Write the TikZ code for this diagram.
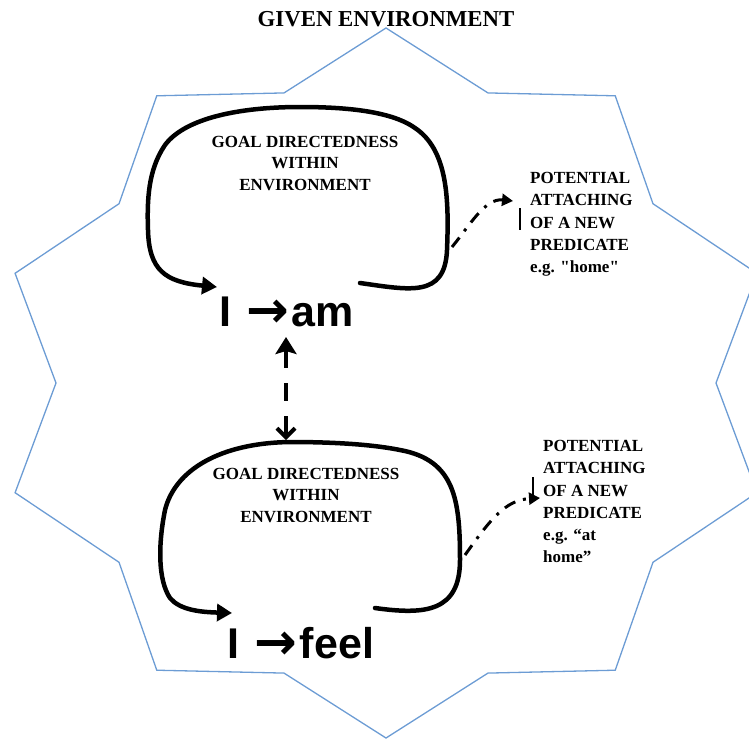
\documentclass[tikz,border=0pt]{standalone}
\usepackage{fontspec}
\setmainfont{Liberation Serif}
\newfontfamily\headfont{Liberation Sans}
\newfontfamily\arrowfont{DejaVu Sans}
\usetikzlibrary{arrows.meta}

\definecolor{starblue}{RGB}{108,156,212}

\tikzset{
  envline/.style={draw=starblue, line width=1.3pt, line join=miter},
  loopline/.style={line width=4.5pt, line cap=round, -{Triangle[length=15pt,width=17pt]}},
  linkline/.style={line width=4pt, dash pattern=on 18pt off 15pt,
    {Stealth[length=17pt,width=21pt,inset=3pt]}-{Straight Barb[length=9pt,width=18pt]}},
  attachline/.style={line width=3pt, dash pattern=on 12pt off 8pt on 3pt off 8pt,
    -{Triangle[length=11pt,width=12pt]}},
  cursorbar/.style={line width=1.6pt},
  titletext/.style={font=\fontsize{22.8}{26}\selectfont\bfseries, inner sep=0pt},
  goaltext/.style={font=\fontsize{17}{21.5}\selectfont\bfseries, align=center, inner sep=0pt},
  predtext/.style={font=\fontsize{17}{22.3}\selectfont\bfseries, align=left,
    anchor=north west, inner sep=0pt},
  bigtext/.style={font=\headfont\fontsize{43}{43}\selectfont\bfseries, anchor=west, inner sep=0pt}
}
\newcommand{\bigarrow}{\hspace{15pt}\raisebox{-1pt}{\arrowfont\bfseries\fontsize{51}{51}\selectfont →}\hspace{3pt}}

\begin{document}
\begin{tikzpicture}[x=1pt,y=-1pt]
    \useasboundingbox (0,0) rectangle (749,740);

    % Draw the ten-pointed star around everything
    \draw[envline, shift={(386,383)}] (90:390 and 355)
      \foreach \a in {0,36,...,324} { -- ({\a+108}:330 and 305) -- ({\a+126}:390 and 355) }
      -- cycle;

    % Texts
    \node[titletext] (given) at (386,19) {GIVEN ENVIRONMENT};
    \node[goaltext] (goalam) at (305,163) {GOAL DIRECTEDNESS\\WITHIN\\ENVIRONMENT};
    \node[goaltext] (goalfeel) at (306,495) {GOAL DIRECTEDNESS\\WITHIN\\ENVIRONMENT};
    \node[bigtext] (iam) at (219,312) {I\bigarrow am};
    \node[bigtext] (ifeel) at (227,643) {I\bigarrow feel};
    \node[predtext] (predam) at (530,172) {POTENTIAL\\ATTACHING\\OF A NEW\\PREDICATE\\e.g. \textquotedbl home\textquotedbl};
    \node[predtext] (predfeel) at (543,440) {POTENTIAL\\ATTACHING\\OF A NEW\\PREDICATE\\e.g. “at\\home”};

    % Loop ends and link points
    \coordinate (amback) at (360,283);
    \coordinate (amin) at (217,287);
    \coordinate (feelback) at (375,608);
    \coordinate (feelin) at (232,613);
    \coordinate (amlow) at (286,337);
    \coordinate (feeltop) at (286,440);
    \coordinate (amout) at (452,247);
    \coordinate (amnew) at (513,201);
    \coordinate (feelout) at (465,555);
    \coordinate (feelnew) at (540,498);

    % Draw upper loop
    \draw[loopline] (amback) .. controls (410,290) and (445,298) .. (447,250)
      .. controls (449,200) and (448,150) .. (415,128)
      .. controls (390,110) and (340,107) .. (300,107)
      .. controls (240,107) and (185,118) .. (165,145)
      .. controls (148,170) and (147,200) .. (148,230)
      .. controls (149,270) and (165,282) .. (amin);

    % Draw lower loop
    \draw[loopline] (feelback) .. controls (425,615) and (460,612) .. (460,560)
      .. controls (460,500) and (455,460) .. (400,450)
      .. controls (370,444) and (330,442) .. (290,442)
      .. controls (220,443) and (175,470) .. (165,510)
      .. controls (158,545) and (158,580) .. (170,598)
      .. controls (180,610) and (200,612) .. (feelin);

    % Draw link between the two loops
    \draw[linkline] (amlow) -- (feeltop);

    % Draw attaching arrows
    \draw[attachline] (amout) .. controls (470,225) and (485,198) .. (amnew);
    \draw[attachline] (feelout) .. controls (490,520) and (505,500) .. (feelnew);
    \draw[cursorbar] (520,208) -- (520,230);
    \draw[cursorbar] (533,477) -- (533,495);

\end{tikzpicture}
\end{document}
